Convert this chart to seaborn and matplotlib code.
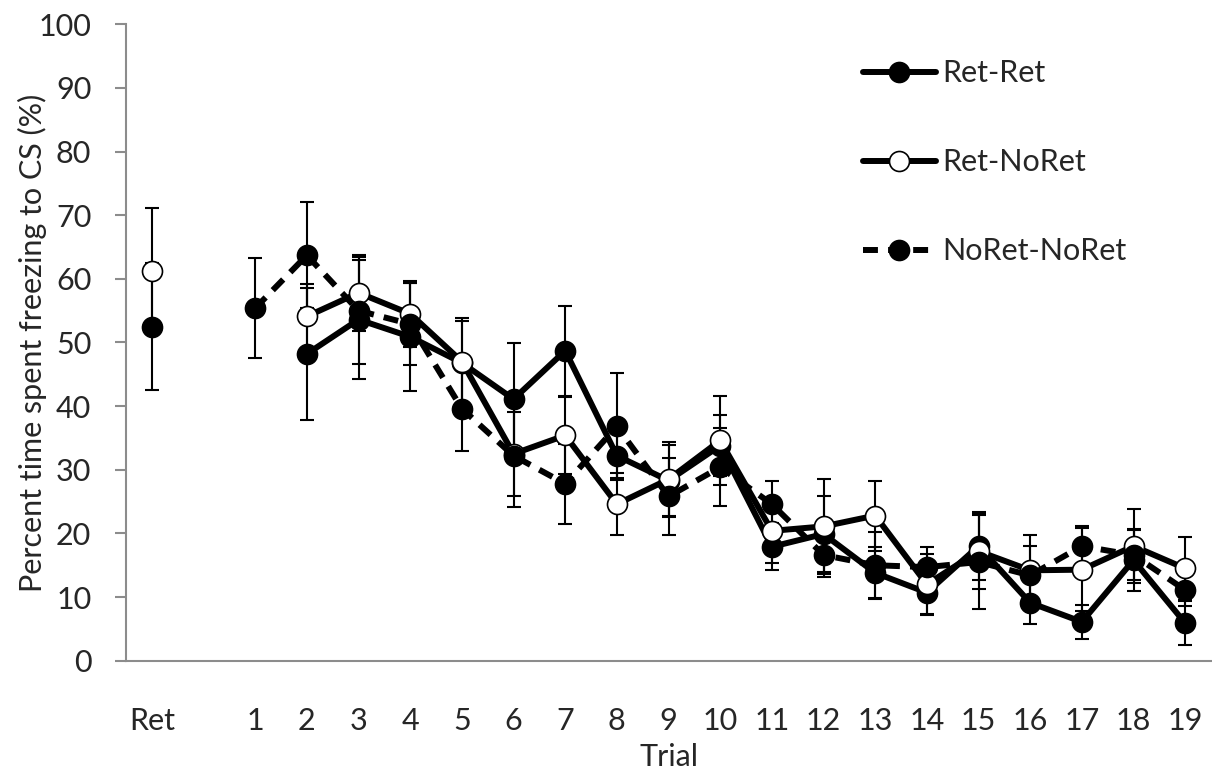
import numpy as np
import pandas as pd
import seaborn as sns
import matplotlib.pyplot as plt
from matplotlib.lines import Line2D

# Data (mean +/- error), Ret shown at position -1, gap at 0
trials = list(range(1, 20))
tick_pos = list(range(-1, 20))
tick_labels = ['Ret', ''] + [str(t) for t in trials]

ret_ret = [np.nan, 48.2, 53.6, 50.9, 46.8, 41.1, 48.7, 32.2, 28.3, 33.8,
           17.9, 19.9, 13.8, 10.7, 18.0, 9.1, 6.1, 15.8, 5.9]
ret_ret_err = [np.nan, 10.4, 9.3, 8.5, 6.5, 8.8, 7.1, 3.5, 5.6, 4.8,
               3.7, 6.0, 4.1, 3.3, 5.4, 3.4, 2.7, 4.9, 3.4]

ret_noret = [np.nan, 54.1, 57.8, 54.5, 47.0, 32.5, 35.4, 24.6, 28.5, 34.6,
             20.4, 21.1, 22.8, 12.0, 17.2, 14.2, 14.3, 18.0, 14.5]
ret_noret_err = [np.nan, 5.1, 6.0, 5.2, 6.9, 6.6, 6.0, 4.9, 5.9, 7.0,
                 5.0, 7.5, 5.5, 4.8, 6.0, 5.6, 6.5, 5.8, 5.0]

noret_noret = [55.4, 63.7, 55.0, 52.9, 39.6, 32.2, 27.8, 36.8, 25.8, 30.4,
               24.6, 16.6, 15.0, 14.7, 15.5, 13.4, 18.0, 16.6, 11.1]
noret_noret_err = [7.8, 8.3, 8.4, 6.4, 6.6, 8.1, 6.3, 8.4, 6.0, 6.1,
                   3.6, 3.5, 5.2, 3.2, 7.4, 4.6, 3.1, 4.0, 2.5]

ret_groups = ['Ret-Ret', 'Ret-NoRet']
ret_vals = [52.5, 61.3]
ret_errs = [10.0, 9.8]

sns.set_theme(style='white')
plt.rcParams['font.family'] = ['Lato', 'DejaVu Sans']

fig = plt.figure(figsize=(12.12, 7.73), dpi=100)
ax = fig.add_axes([0.104, 0.1453, 0.8952, 0.8233])

LW = 4.3
MS = 14.4
series = [
    ('Ret-Ret', ret_ret, ret_ret_err, 'black', '-'),
    ('Ret-NoRet', ret_noret, ret_noret_err, 'white', '-'),
    ('NoRet-NoRet', noret_noret, noret_noret_err, 'black', (0, (2.5, 1.7))),
]

# error bars underneath everything
for name, vals, errs, fc, ls in series:
    ax.errorbar(trials, vals, yerr=errs, fmt='none', ecolor='black',
                elinewidth=1.5, capsize=4.7, capthick=1.5, zorder=1)
ax.errorbar([-1, -1], ret_vals, yerr=ret_errs, fmt='none', ecolor='black',
            elinewidth=1.5, capsize=4.7, capthick=1.5, zorder=1)

for i, (name, vals, errs, fc, ls) in enumerate(series):
    df = pd.DataFrame({'trial': trials, 'value': vals}).dropna()
    sns.lineplot(data=df, x='trial', y='value', ax=ax, color='black',
                 linewidth=LW, linestyle=ls, marker='o', markersize=MS,
                 markerfacecolor=fc, markeredgecolor='black',
                 markeredgewidth=1.2, zorder=3 + i)

ret_df = pd.DataFrame({'x': [-1, -1], 'value': ret_vals, 'group': ret_groups})
for i, (g, fc) in enumerate(zip(ret_groups, ['black', 'white'])):
    sub = ret_df[ret_df['group'] == g]
    sns.scatterplot(data=sub, x='x', y='value', ax=ax, color=fc, s=MS ** 2,
                    edgecolor='black', linewidth=1.2, zorder=3 + i)

ax.set_xlim(-1.5, 19.5)
ax.set_ylim(0, 100)
ax.set_xticks(tick_pos)
ax.set_xticklabels(tick_labels)
ax.set_yticks(range(0, 101, 10))

ax.spines['top'].set_visible(False)
ax.spines['right'].set_visible(False)
for s in ['left', 'bottom']:
    ax.spines[s].set_color('#8c8c8c')
    ax.spines[s].set_linewidth(1.5)
ax.tick_params(axis='y', direction='out', length=8, width=1.5,
               color='#8c8c8c', pad=17, labelsize=22, left=True)
ax.tick_params(axis='x', length=0, pad=33, labelsize=22)

ax.set_xlabel('Trial', fontsize=22, labelpad=6)
ax.set_ylabel('Percent time spent freezing to CS (%)', fontsize=22)
ax.yaxis.set_label_coords(-0.073, 0.5)

handles = [
    Line2D([], [], color='black', lw=LW, ls='-', marker='o', ms=MS,
           mfc='black', mec='black', mew=1.2),
    Line2D([], [], color='black', lw=LW, ls='-', marker='o', ms=MS,
           mfc='white', mec='black', mew=1.2),
    Line2D([], [], color='black', lw=LW, ls=(0, (2.5, 1.7)), marker='o',
           ms=MS, mfc='black', mec='black', mew=1.2),
]
ax.legend(handles, [s[0] for s in series], loc='upper left',
          bbox_to_anchor=(0.679, 0.945), frameon=False, fontsize=22,
          handlelength=2.4, handletextpad=0.2, labelspacing=2.0,
          borderpad=0, borderaxespad=0)

fig.savefig('out.png', dpi=100)
